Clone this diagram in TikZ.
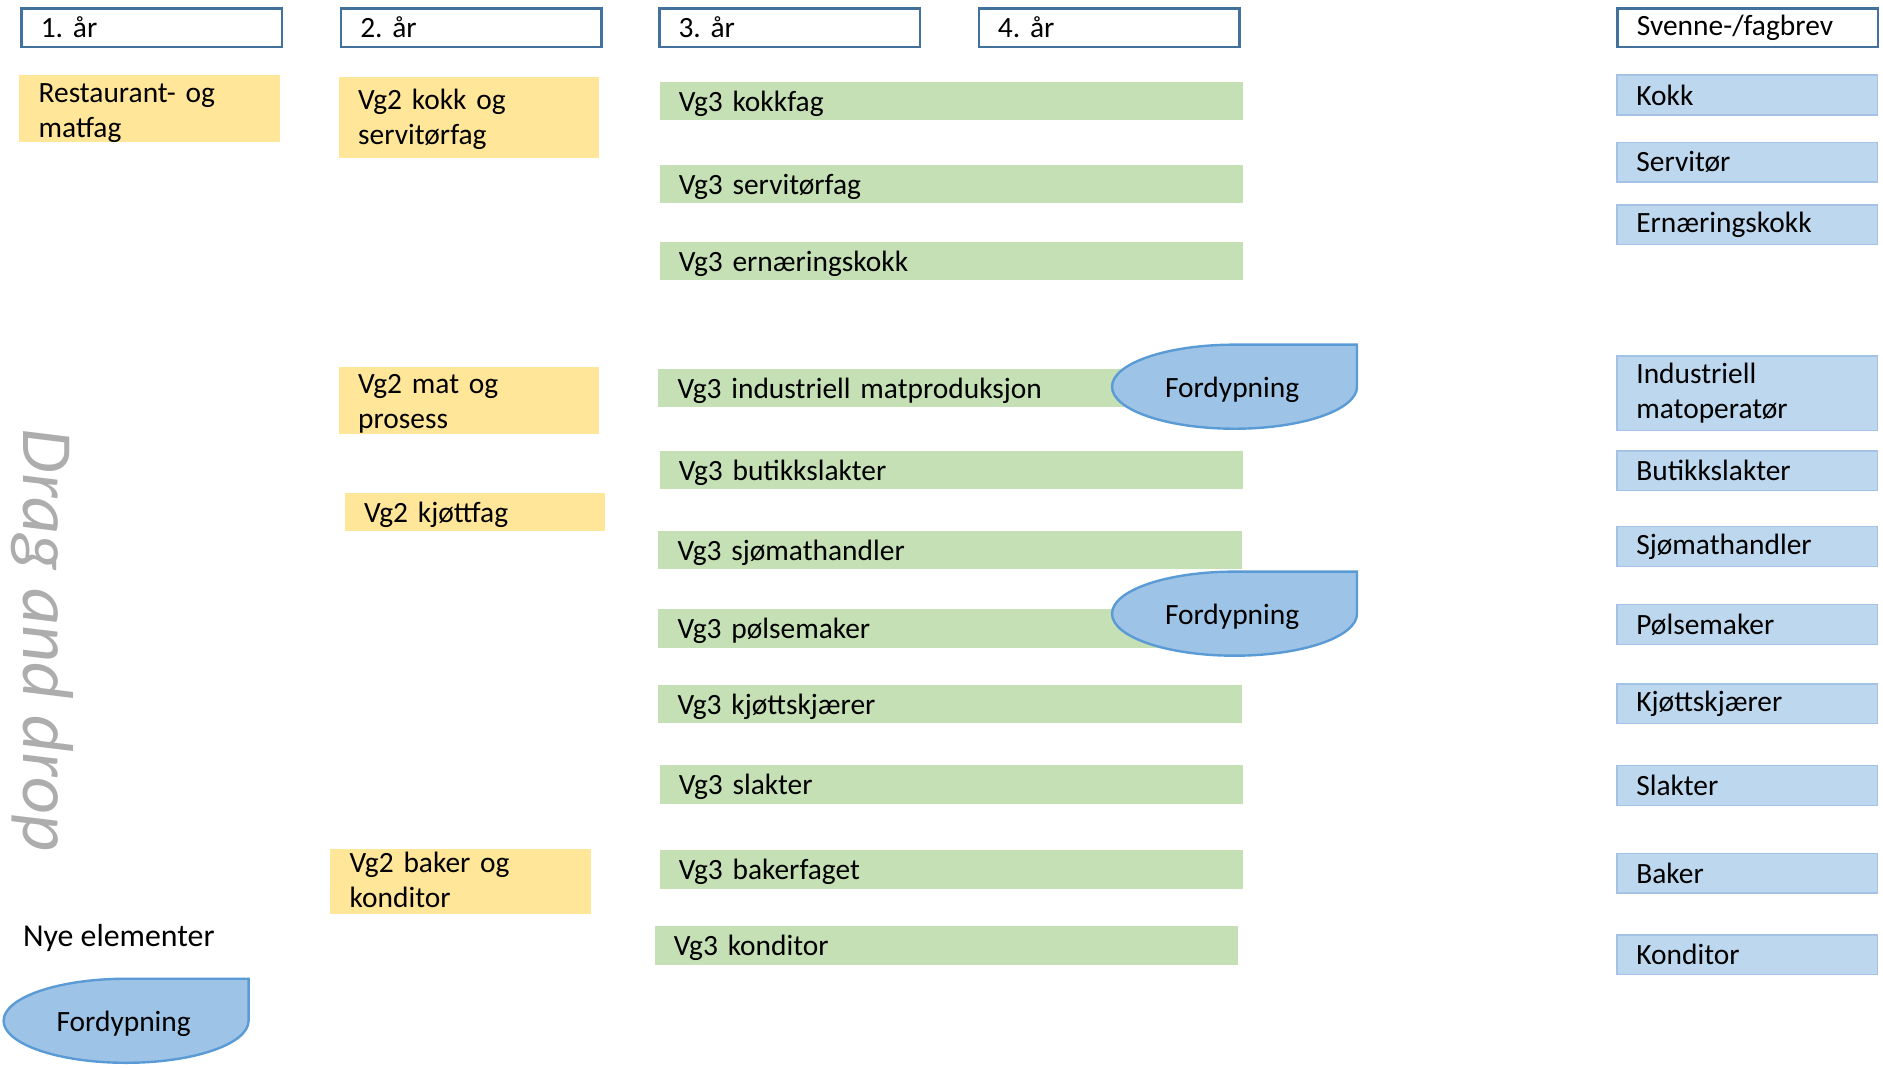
\documentclass[tikz,border=0pt]{standalone}
\usepackage{fontspec}
\setmainfont{Carlito}
\usepackage{tikz}
\usepackage{xcolor}
\frenchspacing

\definecolor{yrblue}{HTML}{41719C}
\definecolor{vgyellow}{HTML}{FFE699}
\definecolor{vggreen}{HTML}{C5E0B4}
\definecolor{brevfill}{HTML}{BDD7EE}
\definecolor{brevline}{HTML}{A4C2E6}
\definecolor{fordfill}{HTML}{9DC3E6}
\definecolor{fordline}{HTML}{5B9BD5}
\definecolor{draggray}{HTML}{ADADAD}

% teardrop with text: name, cx, cy
\newcommand{\fordypning}[3]{%
	\draw [fordyp] (#2,#3) ++(0,-35) -- ++(102,0) -- ++(0,35)
		arc [start angle=0, end angle=270, x radius=102, y radius=35] -- cycle;
	\node [txt] (#1) at (#2-2,#3+2.5) {Fordypning};
}

\begin{document}
\begin{tikzpicture}[x=1pt, y=-1pt,
		font=\fontsize{24.5}{29}\selectfont,
		box/.style={anchor=north west, inner xsep=16pt, inner ysep=0pt, align=left},
		yearbox/.style={box, draw=yrblue, line width=2pt, fill=white, text width=185pt, minimum height=32pt},
		vgtwo/.style={box, fill=vgyellow, text width=185pt, text depth=33pt},
		vgthree/.style={box, fill=vggreen, text width=454pt, minimum height=32pt, text height=22pt, text depth=5pt},
		brev/.style={box, fill=brevfill, draw=brevline, line width=1.2pt, text width=185pt, minimum height=33pt},
		fordyp/.style={fill=fordfill, draw=fordline, line width=2pt},
		txt/.style={inner sep=0pt}]
		
		\useasboundingbox (0,0) rectangle (1568,889);
		
		% years
		\node [yearbox] (y1) at (17,6) {1. år};
		\node [yearbox] (y2) at (283,6) {2. år};
		\node [yearbox] (y3) at (548,6) {3. år};
		\node [yearbox] (y4) at (814,6) {4. år};
		\node [yearbox] (sv) at (1346,6) {Svenne-/fagbrev};
		
		% Vg1 and Vg2
		\node [vgtwo, minimum height=56pt, text height=22.8pt] (rm) at (16,62) {Restaurant- og\\matfag};
		\node [vgtwo, minimum height=67pt, text height=20.2pt] (ks) at (282,64) {Vg2 kokk og\\servitørfag};
		\node [vgtwo, minimum height=55pt, text height=22.8pt] (mp) at (282,305) {Vg2 mat og\\prosess};
		\node [vgtwo, minimum height=32pt, text height=22pt, text depth=5pt] (kj) at (287,410) {Vg2 kjøttfag};
		\node [vgtwo, minimum height=54pt, text height=18.2pt] (bk) at (275,707) {Vg2 baker og\\konditor};
		
		% Vg3
		\node [vgthree] (g1) at (549,68) {Vg3 kokkfag};
		\node [vgthree] (g2) at (549,137) {Vg3 servitørfag};
		\node [vgthree] (g3) at (549,201) {Vg3 ernæringskokk};
		\node [vgthree] (g4) at (548,307) {Vg3 industriell matproduksjon};
		\node [vgthree] (g5) at (549,375) {Vg3 butikkslakter};
		\node [vgthree] (g6) at (548,442) {Vg3 sjømathandler};
		\node [vgthree] (g7) at (548,507) {Vg3 pølsemaker};
		\node [vgthree] (g8) at (548,570) {Vg3 kjøttskjærer};
		\node [vgthree] (g9) at (549,637) {Vg3 slakter};
		\node [vgthree] (g10) at (549,708) {Vg3 bakerfaget};
		\node [vgthree] (g11) at (545,771) {Vg3 konditor};
		
		% fordypning
		\fordypning{f1}{1028}{322}
		\fordypning{f2}{1028}{511}
		
		% svenne-/fagbrev
		\node [brev] (b1) at (1346,62) {Kokk};
		\node [brev] (b2) at (1346,118) {Servitør};
		\node [brev] (b3) at (1346,170) {Ernæringskokk};
		\node [brev, minimum height=62pt] (b4) at (1346,296) {Industriell\\matoperatør};
		\node [brev] (b5) at (1346,375) {Butikkslakter};
		\node [brev] (b6) at (1346,438) {Sjømathandler};
		\node [brev] (b7) at (1346,503) {Pølsemaker};
		\node [brev] (b8) at (1346,569) {Kjøttskjærer};
		\node [brev] (b9) at (1346,637) {Slakter};
		\node [brev] (b10) at (1346,710) {Baker};
		\node [brev] (b11) at (1346,778) {Konditor};
		
		% drag and drop
		\node [txt, rotate=-90, text=draggray, font=\fontsize{60}{70}\selectfont\itshape] (dd) at (35,533) {Drag and drop};
		\node [txt, anchor=west, font=\fontsize{26.5}{31}\selectfont] (ny) at (19,781) {Nye elementer};
		\fordypning{f3}{105}{850}
		
\end{tikzpicture}
\end{document}
